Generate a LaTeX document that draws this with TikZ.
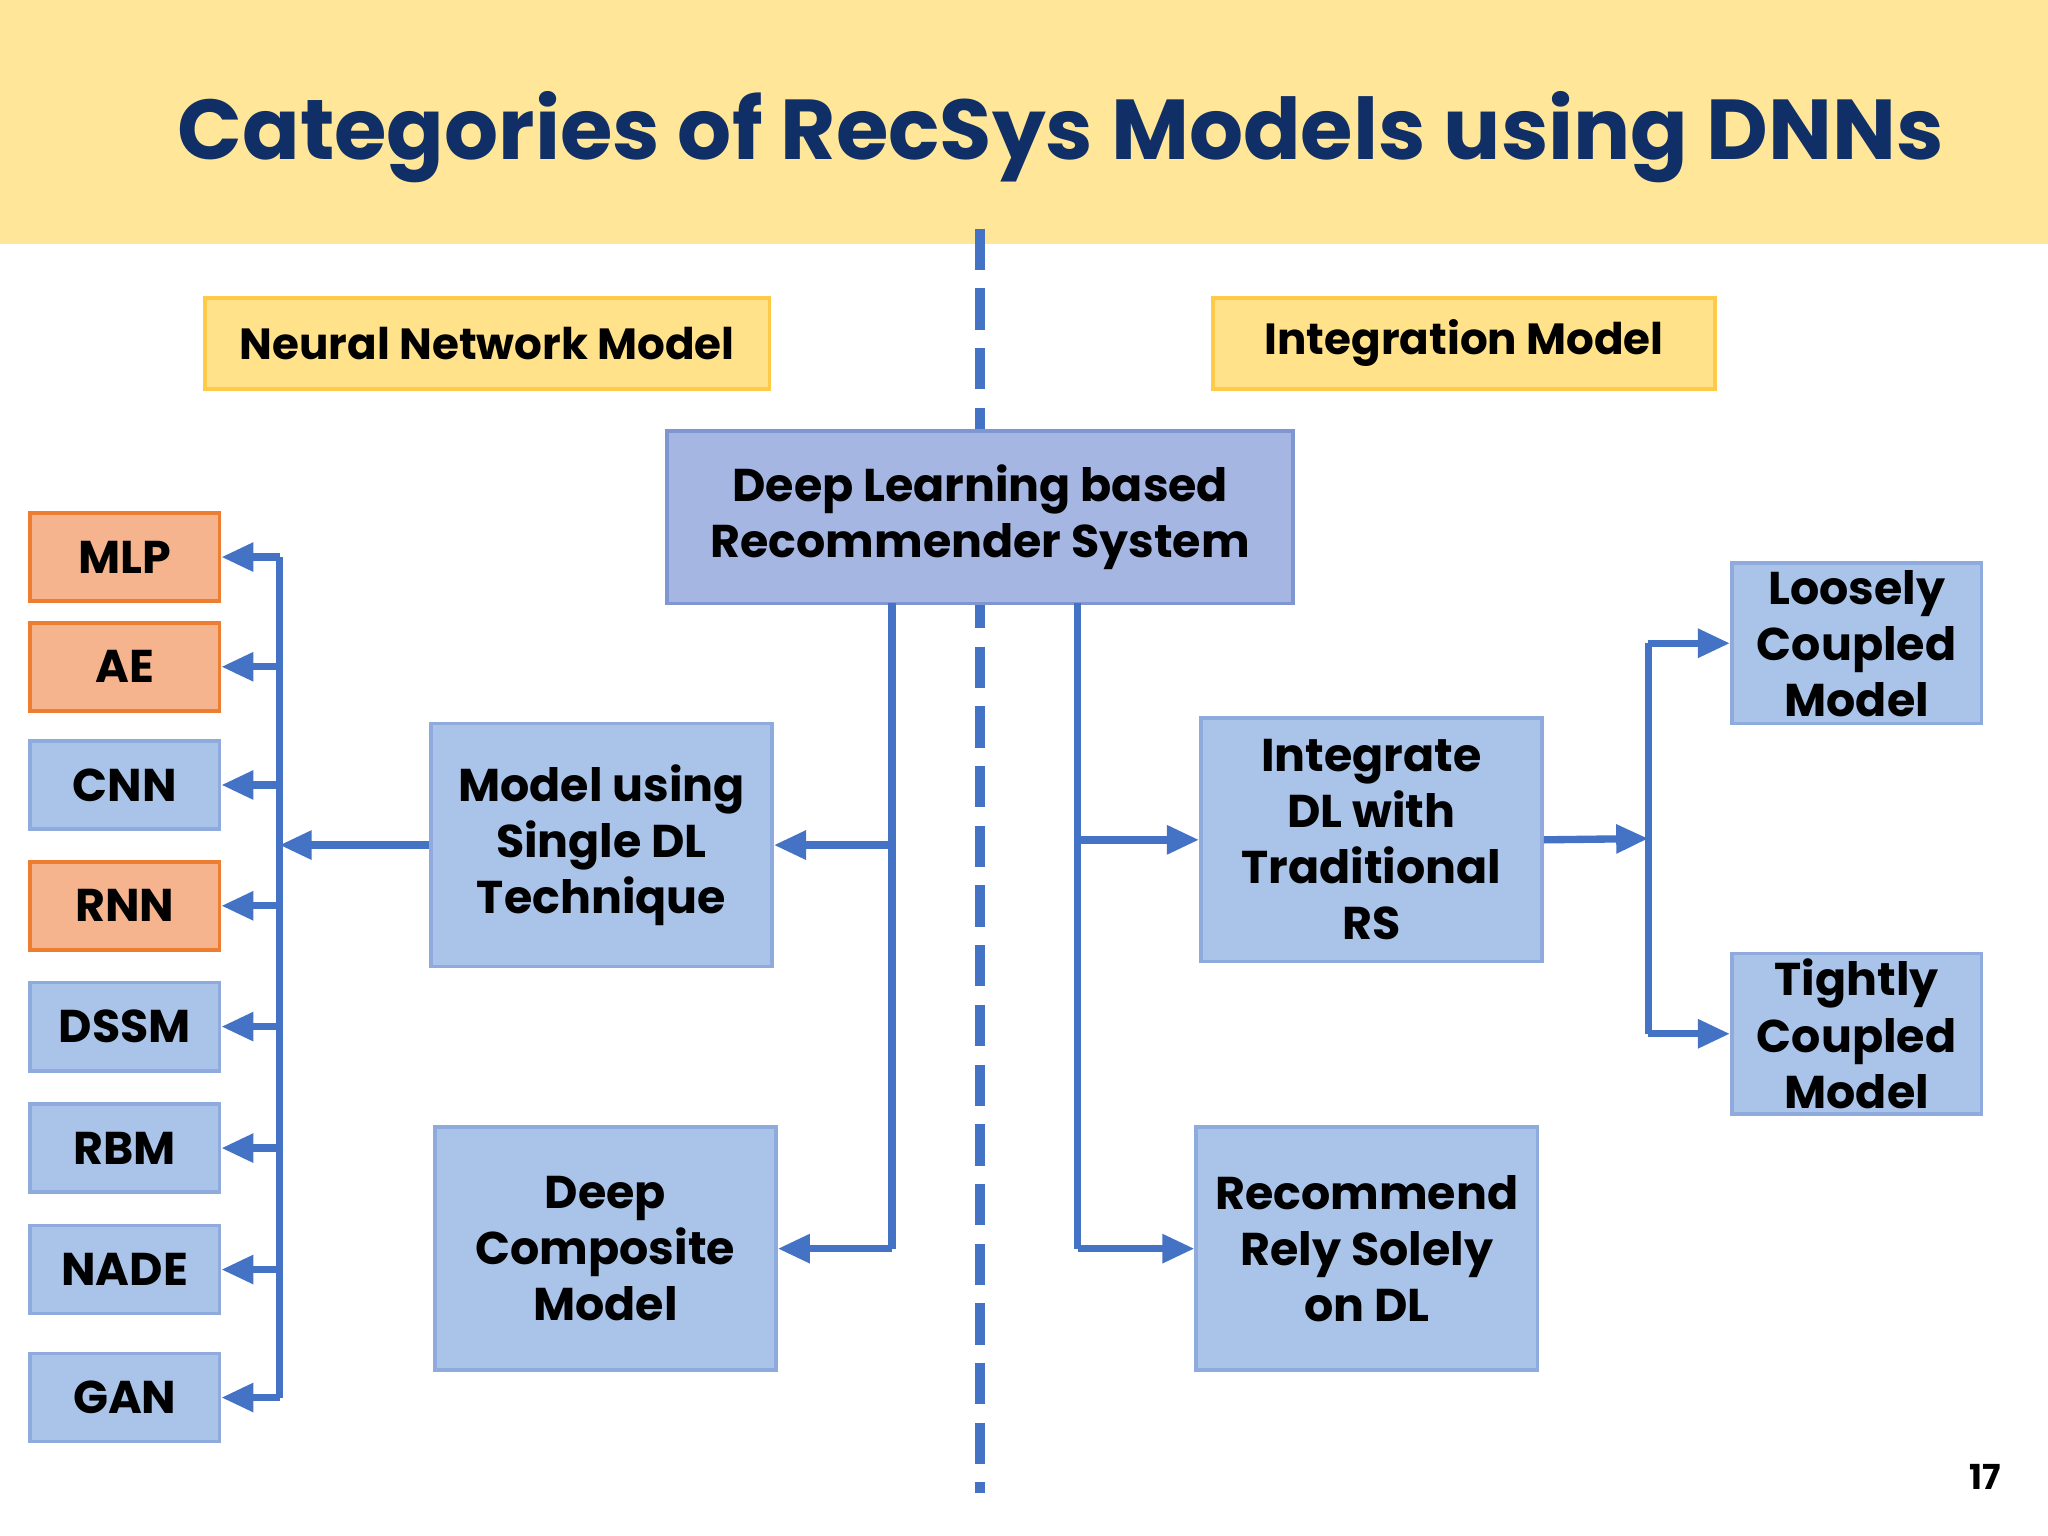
\documentclass[tikz,border=0pt]{standalone}
\usepackage{fontspec}
\setmainfont{Poppins}
\usetikzlibrary{arrows.meta}
\definecolor{band}{HTML}{FFE699}
\definecolor{navy}{HTML}{0F2F66}
\definecolor{lnk}{HTML}{4472C4}
\definecolor{bfill}{HTML}{A9C4E8}
\definecolor{bdraw}{HTML}{8FAADC}
\definecolor{ofill}{HTML}{F6B48E}
\definecolor{odraw}{HTML}{ED7D31}
\definecolor{yfill}{HTML}{FFE28A}
\definecolor{ydraw}{HTML}{FFC94A}
\definecolor{cfill}{HTML}{A6B6E2}
\definecolor{cdraw}{HTML}{7F96D0}
\begin{document}
\begin{tikzpicture}[x=0.01cm,y=-0.01cm,
  box/.style={draw=bdraw,fill=bfill,line width=0.8pt,inner sep=0pt,align=center,font=\bfseries\fontsize{10}{12.2}\selectfont,text=black},
  small/.style={box,minimum width=1.45cm,minimum height=0.675cm},
  orn/.style={small,draw=odraw,fill=ofill},
  cat/.style={box,draw=ydraw,fill=yfill,minimum height=0.7cm,font=\bfseries\fontsize{9.5}{11}\selectfont},
  big/.style={box,minimum width=2.61cm,minimum height=1.86cm},
  side/.style={box,minimum width=1.91cm,minimum height=1.23cm},
  ln/.style={draw=lnk,line width=1.6pt},
  ar/.style={ln,-{Triangle[length=7pt,width=6pt]}}]
\useasboundingbox (0,0) rectangle (1568,1176);
\fill[band] (0,0) rectangle (1568,187);
\node[font=\bfseries\fontsize{18.5}{22}\selectfont,text=navy] (title) at (812,105) {Categories of RecSys Models using DNNs};
\draw[lnk,line width=2.2pt,dash pattern=on 9pt off 4pt] (750,175) -- (750,1143);
\node[cat,minimum width=4.32cm] (nn) at (373,263) {Neural Network Model};
\node[cat,minimum width=3.84cm] (im) at (1121,263) {Integration Model};
\node[box,draw=cdraw,fill=cfill,minimum width=4.79cm,minimum height=1.32cm] (dl) at (750.5,396) {Deep Learning based\\Recommender System};
\node[orn] (mlp) at (95.5,426.5) {MLP};
\node[orn] (ae) at (95.5,510.5) {AE};
\node[small] (cnn) at (95.5,601) {CNN};
\node[orn] (rnn) at (95.5,693.5) {RNN};
\node[small] (dssm) at (95.5,786) {DSSM};
\node[small] (rbm) at (95.5,879) {RBM};
\node[small] (nade) at (95.5,972) {NADE};
\node[small] (gan) at (95.5,1070) {GAN};
\node[big] (single) at (460.5,647) {Model using\\Single DL\\Technique};
\node[big] (comp) at (463.5,956) {Deep\\Composite\\Model};
\node[big] (integ) at (1050,643) {Integrate\\DL with\\Traditional\\RS};
\node[big] (rely) at (1046.5,956) {Recommend\\Rely Solely\\on DL};
\node[side] (loose) at (1421.5,492.5) {Loosely\\Coupled\\Model};
\node[side] (tight) at (1421.5,791.5) {Tightly\\Coupled\\Model};
\node[font=\bfseries\fontsize{7.5}{9}\selectfont] (pg) at (1520,1131) {17};
% bus
\coordinate (bt) at (214,426.5);
\coordinate (bb) at (214,1070);
\draw[ln] (bt) -- (bb);
\foreach \n in {mlp,ae,cnn,rnn,dssm,rbm,nade,gan}{\draw[ar] (bt|-\n.east) -- (\n.east);}
\draw[ar] (single.west) -- (bt|-single.west);
% left trunk
\coordinate (lt) at (683,462);
\coordinate (lb) at (683,956);
\draw[ln] (lt) -- (lb);
\draw[ar] (lt|-single.east) -- (single.east);
\draw[ar] (lb) -- (comp.east);
% right trunk
\coordinate (rt) at (825,462);
\coordinate (rb) at (825,956);
\draw[ln] (rt) -- (rb);
\draw[ar] (rt|-integ.west) -- (integ.west);
\draw[ar] (rb) -- (rely.west);
% coupling
\coordinate (ct) at (1262,492.5);
\coordinate (cb) at (1262,791.5);
\draw[ln] (ct) -- (cb);
\draw[ar] (integ.east) -- (1262,642);
\draw[ar] (ct) -- (loose.west);
\draw[ar] (cb) -- (tight.west);
\end{tikzpicture}
\end{document}
